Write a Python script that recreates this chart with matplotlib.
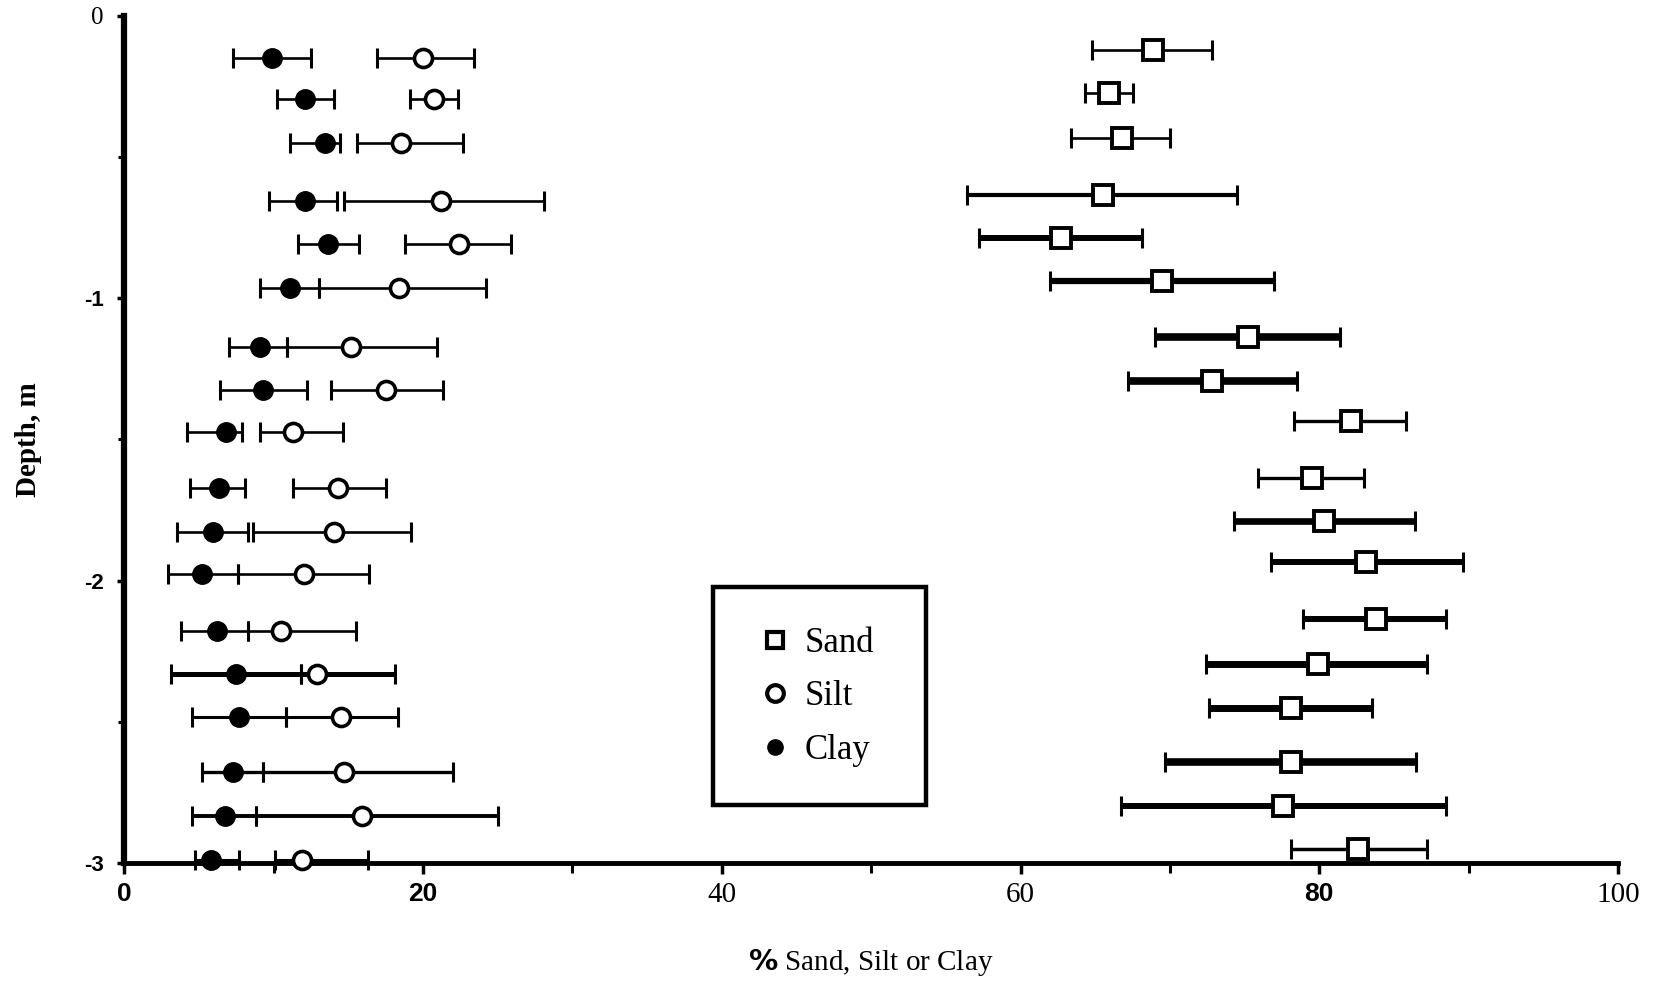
import matplotlib
matplotlib.use("Agg")
import matplotlib.pyplot as plt
from matplotlib.patches import Rectangle
from matplotlib.lines import Line2D

# ---- data: depth (m) and particle-size fractions (%) with ranges ----
depth_fine = [-0.149, -0.295, -0.452, -0.657, -0.807, -0.964, -1.173, -1.326, -1.475,
              -1.674, -1.827, -1.976, -2.178, -2.331, -2.484, -2.678, -2.832, -2.988]
depth_sand = [-0.123, -0.273, -0.433, -0.635, -0.788, -0.938, -1.136, -1.292, -1.434,
              -1.636, -1.789, -1.935, -2.137, -2.294, -2.450, -2.641, -2.798, -2.951]

clay_mean = [9.9, 12.1, 13.4, 12.1, 13.6, 11.1, 9.1, 9.3, 6.8,
             6.3, 5.9, 5.2, 6.2, 7.5, 7.7, 7.3, 6.7, 5.8]
clay_lo = [7.3, 10.2, 11.1, 9.7, 11.6, 9.1, 7.0, 6.4, 4.2,
           4.4, 3.5, 2.9, 3.8, 3.1, 4.5, 5.2, 4.5, 4.7]
clay_hi = [12.5, 14.0, 14.4, 14.2, 15.7, 13.0, 10.9, 12.2, 7.9,
           8.1, 8.3, 7.6, 8.3, 11.8, 10.8, 9.3, 8.8, 7.7]

silt_mean = [20.0, 20.7, 18.5, 21.2, 22.4, 18.4, 15.2, 17.5, 11.3,
             14.3, 14.0, 12.0, 10.5, 12.9, 14.5, 14.7, 15.9, 11.9]
silt_lo = [16.9, 19.1, 15.6, 14.7, 18.8, 13.0, 10.9, 13.8, 9.1,
           11.3, 8.6, 7.6, 8.3, 11.8, 10.8, 9.3, 8.8, 10.1]
silt_hi = [23.4, 22.3, 22.7, 28.1, 25.9, 24.2, 20.9, 21.3, 14.6,
           17.5, 19.2, 16.4, 15.5, 18.1, 18.3, 22.0, 25.0, 16.3]

sand_mean = [68.9, 65.9, 66.8, 65.5, 62.7, 69.5, 75.2, 72.8, 82.1,
             79.5, 80.3, 83.1, 83.8, 79.9, 78.1, 78.1, 77.6, 82.6]
sand_lo = [64.8, 64.3, 63.4, 56.4, 57.2, 62.0, 69.0, 67.2, 78.3,
           75.9, 74.3, 76.8, 78.9, 72.4, 72.6, 69.7, 66.7, 78.1]
sand_hi = [72.8, 67.5, 70.0, 74.5, 68.1, 77.0, 81.4, 78.5, 85.8,
           83.0, 86.4, 89.6, 88.5, 87.2, 83.5, 86.5, 88.5, 87.2]

x_ticks = [0, 20, 40, 60, 80, 100]
y_ticks = [0, -1, -2, -3]

# ---- styling ----
SERIF = "Liberation Serif"
SANS = "Liberation Sans"
sand_bar_w = [1.9, 1.9, 1.9, 3.0, 4.3, 4.5, 5.5, 5.5, 2.4,
              2.4, 4.8, 4.3, 4.3, 5.0, 5.0, 5.5, 4.3, 2.5]
fine_bar_w = [1.9] * 13 + [3.6, 2.2, 2.4, 2.8, 2.2]

plt.rcParams["mathtext.fontset"] = "dejavusans"

fig = plt.figure(figsize=(16.55, 9.84), dpi=100)
ax = fig.add_axes([0.0752, 0.123, 0.9024, 0.861])


def draw_series(depths, mean, lo, hi, widths, marker, face, ms, mew, z):
    for d, m, a, b, w in zip(depths, mean, lo, hi, widths):
        ax.errorbar([m], [d], xerr=[[m - a], [b - m]], fmt="none",
                    ecolor="black", elinewidth=w, capsize=7, capthick=2.2,
                    zorder=z, clip_on=False)
    ax.plot(mean, depths, linestyle="none", marker=marker, markersize=ms,
            markerfacecolor=face, markeredgecolor="black", markeredgewidth=mew,
            zorder=z + 1, clip_on=False)


draw_series(depth_fine, clay_mean, clay_lo, clay_hi, fine_bar_w, "o", "black", 14, 1.0, 3)
draw_series(depth_fine, silt_mean, silt_lo, silt_hi, fine_bar_w, "o", "white", 13, 2.6, 5)
draw_series(depth_sand, sand_mean, sand_lo, sand_hi, sand_bar_w, "s", "white", 14, 2.8, 7)

ax.set_xlim(0, 100)
ax.set_ylim(-3, 0)

for side in ("top", "right"):
    ax.spines[side].set_visible(False)
ax.spines["left"].set_linewidth(4.5)
ax.spines["bottom"].set_linewidth(3.5)

ax.set_xticks(x_ticks)
ax.set_xticks([10, 30, 50, 70, 90], minor=True)
ax.set_yticks(y_ticks)
ax.set_yticks([-0.5, -1.5, -2.5], minor=True)
ax.tick_params(axis="x", which="major", direction="out", length=8, width=2.5, pad=6)
ax.tick_params(axis="x", which="minor", direction="out", length=7, width=2.2)
ax.tick_params(axis="y", which="major", direction="out", length=5, width=2.5, pad=10)
ax.tick_params(axis="y", which="minor", direction="out", length=4, width=2.2)

ax.set_xticklabels([str(v) for v in x_ticks])
ax.set_yticklabels([str(v) for v in y_ticks])
bold_x = {"0", "20", "80"}
for lab in ax.get_xticklabels():
    if lab.get_text() in bold_x:
        lab.set_fontfamily(SANS)
        lab.set_fontweight("bold")
        lab.set_fontsize(19)
    else:
        lab.set_fontfamily(SERIF)
        lab.set_fontsize(21)
for lab in ax.get_yticklabels():
    if lab.get_text() == "0":
        lab.set_fontfamily(SERIF)
        lab.set_fontsize(18)
    else:
        lab.set_fontfamily(SANS)
        lab.set_fontweight("bold")
        lab.set_fontsize(16)

ax.set_ylabel("Depth, m", fontfamily=SERIF, fontweight="bold", fontsize=21, labelpad=30)
ax.set_xlabel(r"$\mathbf{\%}$ Sand, Silt or Clay", fontfamily=SERIF, fontsize=21,
              labelpad=28)

# legend box
ax.add_patch(Rectangle((0.394, 0.068), 0.143, 0.258, transform=ax.transAxes,
                       fill=True, facecolor="white", edgecolor="black",
                       linewidth=3.2, zorder=10))
handles = [
    Line2D([], [], linestyle="none", marker="s", markersize=12,
           markerfacecolor="white", markeredgecolor="black", markeredgewidth=3.0),
    Line2D([], [], linestyle="none", marker="o", markersize=12,
           markerfacecolor="white", markeredgecolor="black", markeredgewidth=3.0),
    Line2D([], [], linestyle="none", marker="o", markersize=11,
           markerfacecolor="black", markeredgecolor="black"),
]
leg = ax.legend(handles, ["Sand", "Silt", "Clay"], loc="center left",
                bbox_to_anchor=(0.4124, 0.196), frameon=False, borderpad=0,
                handlelength=1.0, handletextpad=0.35, labelspacing=0.59,
                prop={"family": SERIF, "size": 25})
leg.set_zorder(11)

fig.savefig("out.png", dpi=100, facecolor="white")
